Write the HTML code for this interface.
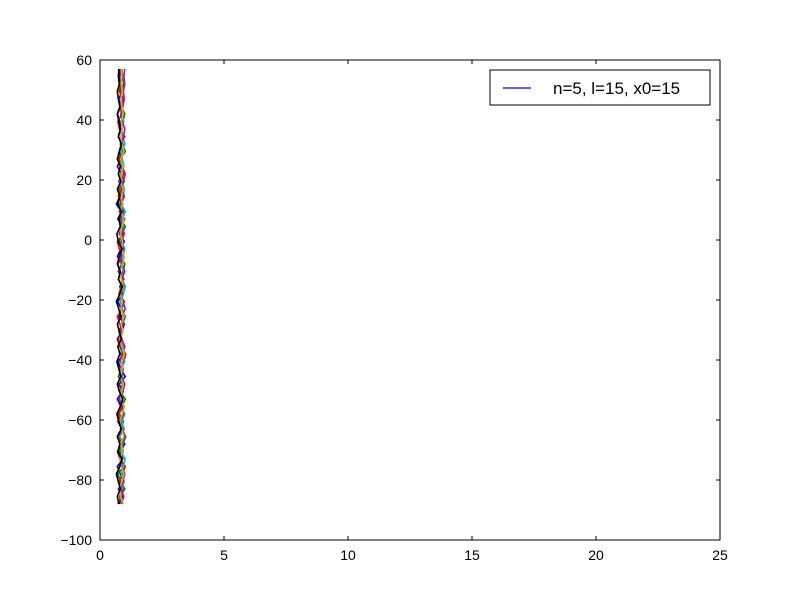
<!DOCTYPE html>
<html><head><meta charset="utf-8"><style>body{margin:0;background:#fff}svg{display:block;font-family:"Liberation Sans",sans-serif}</style></head>
<body>
<svg id="c" width="800" height="600"></svg>
<script>
const yVals=[-88,-85.5,-83,-80.5,-78,-75.5,-73,-70.5,-68,-65.5,-63,-60.5,-58,-55.5,-53,-50.5,-48,-45.5,-43,-40.5,-38,-35.5,-33,-30.5,-28,-25.5,-23,-20.5,-18,-15.5,-13,-10.5,-8,-5.5,-3,-0.5,2,4.5,7,9.5,12,14.5,17,19.5,22,24.5,27,29.5,32,34.5,37,39.5,42,44.5,47,49.5,52,54.5,57];
const seriesColors=['#0000ff','#008000','#ff0000','#00bfbf','#bf00bf','#bfbf00','#000000'];
const seriesX=[
[0.78,0.90,0.74,0.95,0.82,0.70,0.92,0.80,1.00,0.76,0.88,0.72,0.96,0.84,0.70,0.90,0.78,1.02,0.82,0.74,0.94,0.80,0.70,0.88,0.98,0.76,0.86,0.72,0.92,0.80,0.96,0.74,0.88,0.70,0.84,0.98,0.78,0.90,0.72,0.86,0.66,0.80,0.94,0.76,0.88,0.70,0.84,0.78,0.92,0.74,0.86,0.80,0.70,0.84,0.76,0.88,0.80,0.78,0.82],
[0.90,0.78,1.00,0.84,0.72,0.96,0.86,0.76,0.92,1.04,0.82,0.94,0.78,0.88,1.02,0.80,0.92,0.74,0.86,0.98,0.82,0.94,0.86,0.76,0.90,1.02,0.84,0.96,0.78,0.88,0.74,0.92,1.00,0.82,0.94,0.78,0.88,1.02,0.84,0.96,0.80,0.90,0.76,0.98,0.86,0.94,0.80,1.02,0.88,0.96,0.82,0.92,1.00,0.86,0.94,0.82,0.96,0.92,0.88],
[0.72,0.86,0.96,0.78,0.90,1.02,0.80,0.70,0.88,0.76,0.98,0.84,0.72,0.92,0.80,0.94,0.70,0.86,0.78,0.96,1.04,0.82,0.74,0.90,0.80,0.70,0.88,0.98,0.76,0.86,0.94,0.80,0.72,0.90,0.78,0.70,0.94,0.84,1.00,0.78,0.92,0.74,0.86,0.80,0.96,0.84,0.74,0.90,0.82,1.00,0.78,0.72,0.88,0.80,0.94,0.78,0.84,0.86,0.82],
[0.94,0.82,0.90,0.98,0.86,0.94,1.02,0.84,0.92,0.80,0.96,0.88,1.00,0.86,0.92,0.82,0.98,0.90,0.84,1.00,0.88,0.96,0.82,0.92,0.86,0.98,0.90,0.82,0.94,1.02,0.88,0.96,0.84,0.92,1.00,0.88,0.82,0.96,0.90,1.02,0.86,0.94,0.98,0.88,0.82,0.96,0.90,0.86,1.00,0.92,0.84,0.96,0.88,0.92,0.84,0.90,0.86,0.88,0.90],
[0.86,0.96,0.84,0.92,1.00,0.88,0.80,0.94,0.86,1.02,0.90,0.82,0.96,0.88,0.78,0.92,1.00,0.86,0.94,0.82,0.90,1.00,0.88,0.80,0.94,0.86,1.02,0.92,0.84,0.96,0.88,1.00,0.90,0.82,0.94,0.86,0.98,0.90,0.80,0.92,0.86,0.98,0.88,0.94,1.02,0.90,0.84,0.96,0.88,0.94,1.00,0.90,0.84,0.92,0.98,0.94,1.00,0.96,1.00],
[0.92,0.84,0.80,0.88,0.96,0.86,0.80,0.92,0.84,0.96,0.88,0.80,0.90,0.98,0.84,0.88,0.94,0.82,0.90,0.86,0.98,0.88,0.80,0.92,0.86,0.96,0.84,0.90,0.82,0.94,0.86,0.80,0.92,0.98,0.86,0.92,0.82,0.88,0.96,0.84,0.90,0.86,0.94,0.80,0.88,0.92,0.84,0.96,0.88,0.84,0.90,0.86,0.94,0.88,0.84,0.90,0.86,0.88,0.86],
[0.76,0.70,0.82,0.74,0.66,0.80,0.88,0.72,0.80,0.70,0.86,0.76,0.68,0.82,0.92,0.78,0.70,0.84,0.76,0.68,0.80,0.72,0.86,0.78,0.70,0.84,0.76,0.66,0.80,0.90,0.74,0.82,0.70,0.78,0.88,0.74,0.68,0.82,0.76,0.86,0.72,0.80,0.70,0.84,0.74,0.82,0.70,0.78,0.86,0.74,0.82,0.76,0.70,0.80,0.74,0.70,0.78,0.74,0.76]];
const xTicks=[0,5,10,15,20,25];
const yTicks=[-100,-80,-60,-40,-20,0,20,40,60];
const L=100,R=720,T=60,B=540;
const sx=v=>L+(v-0)/(25-0)*(R-L), sy=v=>B-(v+100)/(160)*(B-T);
const svg=document.getElementById('c'),NS='http://www.w3.org/2000/svg';
function mk(t,a,p){const e=document.createElementNS(NS,t);for(const k in a)e.setAttribute(k,a[k]);(p||svg).appendChild(e);return e;}
const g=mk('g',{});


seriesX.forEach((xs,i)=>{
 const p=mk('polyline',{points:xs.map((x,j)=>sx(x)+','+sy(yVals[j])).join(' '),fill:'none',stroke:seriesColors[i],'stroke-width':1.6},g);
 
 
});
const fr=mk('rect',{x:L,y:T,width:R-L,height:B-T,fill:'none',stroke:'#000'});


xTicks.forEach(v=>{const x=sx(v);
 mk('line',{x1:x,x2:x,y1:B,y2:B-4,stroke:'#000'});mk('line',{x1:x,x2:x,y1:T,y2:T+4,stroke:'#000'});
 const t=mk('text',{x:x,y:B+20,'text-anchor':'middle','font-size':14});t.textContent=v;
 
 });
yTicks.forEach(v=>{const y=sy(v);
 mk('line',{x1:L,x2:L+4,y1:y,y2:y,stroke:'#000'});mk('line',{x1:R,x2:R-4,y1:y,y2:y,stroke:'#000'});
 const t=mk('text',{x:L-8,y:y+5,'text-anchor':'end','font-size':14});t.textContent=String(v).replace('-','\u2212');
 
 });
const lg=mk('g',{});


mk('rect',{x:490,y:70,width:220,height:35,fill:'#fff',stroke:'#000'},lg);
mk('line',{x1:503,x2:531,y1:88,y2:88,stroke:'#0000ff','stroke-width':1.3},lg);
const lt=mk('text',{x:553,y:94,'font-size':17},lg);lt.textContent='n=5, l=15, x0=15';


</script>
</body></html>
